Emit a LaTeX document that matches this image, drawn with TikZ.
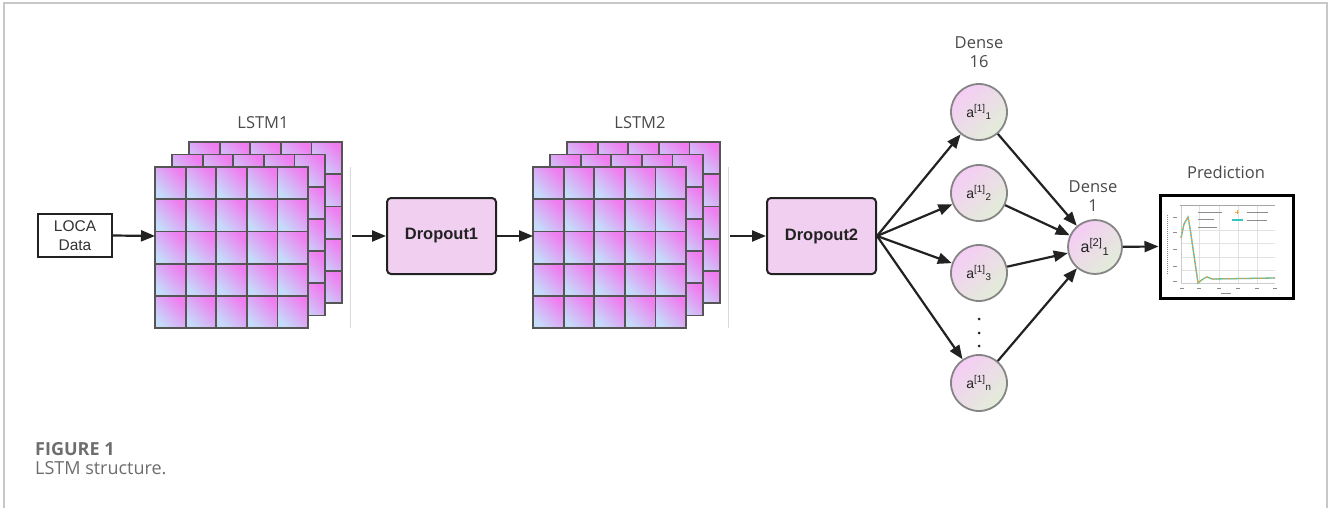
\documentclass[tikz,border=0pt]{standalone}
\usepackage{fontspec}
\setmainfont{Liberation Sans}
\newfontfamily\labelfont{Open Sans}
\usetikzlibrary{arrows.meta,calc}

\definecolor{cellpink}{HTML}{F07CF0}
\definecolor{cellblue}{HTML}{C4DCFA}
\definecolor{cellline}{HTML}{555555}
\definecolor{boxfill}{HTML}{F0CFF0}
\definecolor{circpink}{HTML}{F5CCF5}
\definecolor{circgreen}{HTML}{E2EED8}
\definecolor{circline}{HTML}{858585}
\definecolor{framegray}{HTML}{C8C8C8}
\definecolor{capgray}{HTML}{6E6E6E}
\definecolor{ink}{HTML}{222222}
\definecolor{labelgray}{HTML}{4A4A4A}
\definecolor{plotgrid}{HTML}{E2E2E2}
\definecolor{plotteal}{HTML}{36C4BE}
\definecolor{plotorange}{HTML}{F5A23A}

% one 5x5 layer of LSTM cells, top-left corner at (#1,#2)
\newcommand\cellgrid[2]{%
  \foreach \i in {0,...,4}{%
    \foreach \j in {0,...,4}{%
      \path[draw=cellline, line width=1.8pt, top color=cellpink, bottom color=cellblue, shading angle=-45]
        ({#1+\i*30.6},{#2+\j*32.2}) rectangle ++(30.6,32.2);
    }%
  }%
}
% a stack of three layers, front layer top-left at (#1,#2)
\newcommand\cellstack[2]{%
  \cellgrid{#1+34}{#2-25}
  \cellgrid{#1+17}{#2-12.5}
  \cellgrid{#1}{#2}
}

\tikzset{
  conn/.style={draw=ink, line width=2.2pt, -{Triangle[length=14pt,width=11pt]}},
  dropbox/.style={draw=ink, line width=2pt, fill=boxfill, rounded corners=4pt,
    minimum width=109pt, minimum height=76pt, inner sep=0pt,
    font=\fontsize{16.5}{18}\selectfont\bfseries, text=ink},
  neuron/.style={circle, draw=circline, line width=1.8pt, minimum size=56pt, inner sep=0pt,
    top color=circpink, bottom color=circgreen, shading angle=45,
    font=\fontsize{14}{16}\selectfont, text=ink},
  toplabel/.style={font=\labelfont\fontsize{16.5}{19}\selectfont, text=labelgray, align=center},
  sepline/.style={draw=black!15, line width=1pt},
  textbar/.style={draw=black!45, line width=0.9pt},
}

\begin{document}
\begin{tikzpicture}[x=1pt, y=-1pt]
\useasboundingbox (0,0) rectangle (1328,508);
\fill[white] (0,0) rectangle (1328,508);

% page frame
\draw[framegray, line width=1.5pt] (4,508) -- (4,3) -- (1327,3) -- (1327,508);

% input
\node[draw=ink, line width=2pt, minimum width=74pt, minimum height=43pt, inner sep=0pt,
  align=center, font=\fontsize{15.5}{19}\selectfont, text=black!80] (loca) at (75,235.5) {LOCA\\Data};

% LSTM stacks
\cellstack{155}{167}
\cellstack{533}{167}
\node[toplabel] (lstm1lbl) at (263,123) {LSTM1};
\node[toplabel] (lstm2lbl) at (640,123) {LSTM2};
\coordinate (l1in) at (155,236);
\coordinate (l2in) at (533,236);
\draw[sepline] (350,167) -- (350,328);
\draw[sepline] (728,167) -- (728,328);
\coordinate (l1out) at (352,236);
\coordinate (l2out) at (730,236);

% dropout layers
\node[dropbox] (d1) at (441.5,236) {Dropout1};
\node[dropbox] (d2) at (821.5,236) {Dropout2};

% dense layers
\node[toplabel] (dense16) at (979,52) {Dense\\16};
\node[neuron] (a1) at (979,112) {a\textsuperscript{[1]}\textsubscript{1}};
\node[neuron] (a2) at (979,193) {a\textsuperscript{[1]}\textsubscript{2}};
\node[neuron] (a3) at (979,273) {a\textsuperscript{[1]}\textsubscript{3}};
\node[neuron] (an) at (979,383) {a\textsuperscript{[1]}\textsubscript{n}};
\foreach \yy in {319,333,346} \fill[ink] (979,\yy) circle (1.5pt);
\node[toplabel] (dense1) at (1093,196) {Dense\\1};
\node[neuron, minimum size=54pt, font=\fontsize{16}{18}\selectfont] (b1) at (1095,247) {a\textsuperscript{[2]}\textsubscript{1}};

% prediction plot
\node[toplabel] (predlbl) at (1226,172) {Prediction};
\node[draw=black, line width=3pt, minimum width=133pt, minimum height=103pt, inner sep=0pt] (pred) at (1226.5,246.5) {};
\foreach \xx in {1199,1219,1238,1257} \draw[plotgrid, line width=0.7pt] (\xx,206) -- (\xx,283);
\foreach \yy in {230,243,257,270} \draw[plotgrid, line width=0.7pt] (1181,\yy) -- (1275,\yy);
\draw[black!35, line width=0.8pt] (1180,205) -- (1275,205);
\draw[black!20, line width=0.6pt] (1181,206) -- (1181,283) -- (1275,283);
\foreach \yy in {217,232,249,266,281} \draw[textbar, line width=0.7pt] (1173,\yy) -- (1177,\yy);
\foreach \xx in {1182,1199,1219,1238,1257,1275} \draw[textbar, line width=0.7pt] (\xx-2,288) -- (\xx+2,288);
\draw[textbar, line width=0.6pt, dash pattern=on 1.2pt off 0.8pt] (1167,215) -- (1167,275);
\draw[textbar, line width=0.6pt] (1221,293) -- (1231,293);
\draw[textbar, line width=0.6pt] (1198,212) -- (1222,212);
\draw[textbar, line width=0.6pt] (1198,219) -- (1214,219);
\draw[textbar, line width=0.6pt] (1198,227) -- (1217,227);
\draw[plotorange, line width=0.9pt] (1235,212) -- (1239,212) (1237,210) -- (1237,214);
\draw[plotteal, line width=1.2pt] (1232,220) -- (1243,220);
\draw[textbar, line width=0.6pt] (1247,212) -- (1268,212);
\draw[textbar, line width=0.6pt] (1247,220) -- (1267,220);
\draw[plotteal, line width=1.3pt] (1181,238) -- (1184,224) -- (1188,217) -- (1190,228) -- (1198,283)
  -- (1203,279) -- (1207,277) -- (1212,279) -- (1275,278);
\draw[plotorange, line width=1.2pt, dash pattern=on 1.6pt off 1.6pt] (1181,238) -- (1184,224) -- (1188,217)
  -- (1190,228) -- (1198,283) -- (1203,279) -- (1207,277) -- (1212,279) -- (1275,278);

% connectors
\draw[conn] (loca.east) -- (l1in);
\draw[conn] (l1out) -- (d1.west);
\draw[conn] (d1.east) -- (l2in);
\draw[conn] (l2out) -- (d2.west);
\foreach \n in {a1,a2,a3,an} {
  \draw[conn] (d2.east) -- (\n);
  \draw[conn] (\n) -- (b1);
}
\draw[conn] (b1) -- (pred.west);

% caption
\node[anchor=west, inner sep=0pt, font=\labelfont\bfseries\fontsize{18}{20}\selectfont, text=capgray] (capnum) at (35,449) {FIGURE 1};
\node[anchor=west, inner sep=0pt, font=\labelfont\fontsize{18}{20}\selectfont, text=capgray] (captext) at (35,468) {LSTM structure.};
\end{tikzpicture}
\end{document}
